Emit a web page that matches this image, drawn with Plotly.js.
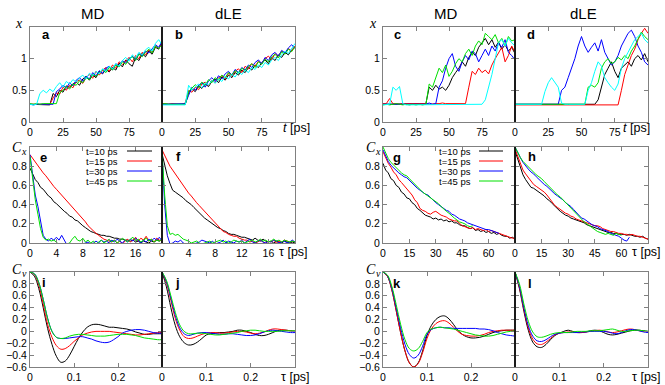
<!DOCTYPE html>
<html>
<head>
<meta charset="utf-8">
<script src="https://cdn.plot.ly/plotly-3.0.1.min.js"></script>
<style>
body { margin: 0; background: #fff; }
#plot { width: 665px; height: 385px; }
</style>
</head>
<body>
<div id="plot"></div>
<script>
// top row: x(t), one point every 2.5 ps from t = 0 to 100
var aBlack = [0.28,0.28,0.27,0.28,0.28,0.28,0.27,0.45,0.40,0.50,0.47,0.57,0.55,0.60,0.63,0.58,0.68,0.72,0.66,0.74,0.70,0.80,0.76,0.83,0.79,0.86,0.82,0.93,0.87,0.98,0.92,0.88,1.02,0.97,1.08,1.03,1.12,1.07,1.18,1.15,1.26];
var aRed   = [0.28,0.28,0.28,0.27,0.28,0.28,0.28,0.38,0.46,0.44,0.55,0.50,0.58,0.54,0.64,0.66,0.61,0.70,0.75,0.69,0.80,0.74,0.82,0.86,0.80,0.90,0.85,0.95,0.91,0.96,1.02,0.95,1.05,1.00,1.10,1.06,1.14,1.10,1.20,1.16,1.24];
var aBlue  = [0.28,0.27,0.28,0.28,0.28,0.28,0.28,0.28,0.48,0.52,0.58,0.53,0.62,0.57,0.66,0.70,0.64,0.72,0.68,0.78,0.73,0.81,0.77,0.85,0.88,0.82,0.92,0.88,0.97,0.93,1.00,1.04,0.98,1.08,1.04,1.12,1.09,1.16,1.22,1.18,1.27];
var aGreen = [0.29,0.28,0.29,0.28,0.29,0.29,0.28,0.29,0.29,0.46,0.50,0.56,0.52,0.60,0.58,0.65,0.62,0.70,0.67,0.75,0.72,0.78,0.83,0.78,0.86,0.82,0.90,0.87,0.95,0.91,0.99,1.03,0.97,1.07,1.03,1.10,1.15,1.09,1.20,1.16,1.22];
var aCyan  = [0.28,0.27,0.28,0.45,0.50,0.46,0.52,0.48,0.56,0.62,0.55,0.64,0.60,0.67,0.63,0.70,0.74,0.68,0.77,0.73,0.80,0.76,0.84,0.80,0.88,0.84,0.92,0.88,0.97,1.02,0.96,1.06,1.01,1.10,1.06,1.14,1.18,1.12,1.24,1.30,1.22];

var bBlack = [0.28,0.28,0.29,0.28,0.28,0.29,0.28,0.28,0.46,0.52,0.48,0.57,0.53,0.60,0.56,0.64,0.68,0.62,0.71,0.66,0.74,0.70,0.78,0.74,0.82,0.78,0.86,0.82,0.90,0.86,0.94,0.98,0.92,1.02,0.97,1.06,1.02,1.10,1.06,1.14,1.18];
var bRed   = [0.29,0.28,0.28,0.29,0.28,0.28,0.28,0.30,0.50,0.47,0.55,0.51,0.60,0.63,0.57,0.66,0.62,0.70,0.73,0.68,0.77,0.72,0.80,0.84,0.78,0.88,0.84,0.92,0.88,0.96,0.92,1.00,1.04,0.98,1.08,1.04,1.12,1.08,1.16,1.12,1.20];
var bBlue  = [0.28,0.28,0.28,0.28,0.29,0.28,0.28,0.29,0.42,0.55,0.50,0.58,0.62,0.55,0.65,0.70,0.64,0.73,0.68,0.76,0.80,0.74,0.83,0.78,0.86,0.82,0.90,0.86,0.94,0.98,0.92,1.02,0.97,1.06,1.10,1.04,1.13,1.09,1.17,1.22,1.16];
var bGreen = [0.28,0.29,0.28,0.28,0.28,0.28,0.29,0.28,0.48,0.53,0.59,0.54,0.63,0.58,0.67,0.62,0.70,0.66,0.74,0.70,0.78,0.74,0.81,0.77,0.85,0.81,0.88,0.92,0.86,0.95,0.91,0.99,0.95,1.03,1.07,1.01,1.11,1.07,1.15,1.11,1.19];
var bCyan  = [0.27,0.27,0.27,0.27,0.28,0.27,0.27,0.27,0.58,0.50,0.56,0.60,0.54,0.62,0.58,0.66,0.61,0.68,0.64,0.72,0.68,0.75,0.71,0.79,0.75,0.82,0.78,0.86,0.83,0.90,0.86,0.94,0.90,0.98,1.02,0.97,1.06,1.12,1.08,1.16,1.24];

var cBlack = [0.28,0.28,0.29,0.28,0.28,0.29,0.28,0.28,0.29,0.28,0.28,0.29,0.28,0.29,0.55,0.50,0.58,0.52,0.55,0.50,0.58,0.70,0.78,0.85,0.95,0.88,1.02,1.10,1.05,1.18,1.25,1.32,1.22,1.30,1.18,1.26,1.15,1.22,1.12,1.18,1.08];
var cRed   = [0.29,0.29,0.37,0.29,0.29,0.28,0.29,0.29,0.29,0.29,0.29,0.30,0.29,0.29,0.28,0.29,0.29,0.29,0.30,0.29,0.29,0.29,0.28,0.29,0.29,0.29,0.55,0.80,0.75,0.85,0.78,0.82,0.76,0.90,1.00,1.10,1.18,0.95,1.05,1.20,1.10];
var cBlue  = [0.28,0.28,0.28,0.29,0.28,0.28,0.28,0.28,0.29,0.28,0.28,0.28,0.29,0.28,0.30,0.28,0.29,0.55,0.65,0.85,1.00,1.08,0.88,0.80,0.95,1.05,0.98,1.12,1.08,0.95,1.05,1.15,1.05,1.20,1.12,1.25,1.18,1.30,1.10,1.05,0.98];
var cGreen = [0.27,0.28,0.27,0.28,0.29,0.28,0.27,0.28,0.27,0.28,0.27,0.28,0.27,0.28,0.60,0.55,0.70,0.85,0.78,0.90,0.72,0.80,0.92,1.00,0.95,1.08,1.15,1.05,1.20,1.28,1.22,1.40,1.35,1.30,1.38,1.25,1.32,1.20,1.35,1.28,1.30];
var cCyan  = [0.27,0.27,0.28,0.55,0.50,0.56,0.29,0.27,0.27,0.27,0.28,0.27,0.27,0.27,0.28,0.27,0.27,0.27,0.28,0.27,0.27,0.27,0.28,0.27,0.27,0.27,0.28,0.27,0.27,0.27,0.28,0.35,0.55,0.75,1.00,1.25,1.30,1.20,1.32,1.25,1.20];

var dBlack = [0.28,0.28,0.29,0.28,0.28,0.28,0.29,0.28,0.28,0.28,0.29,0.28,0.28,0.28,0.29,0.28,0.28,0.28,0.29,0.28,0.28,0.29,0.28,0.28,0.28,0.35,0.55,0.75,0.85,0.95,0.80,0.70,0.85,0.90,0.95,0.88,1.00,1.05,0.98,1.08,0.95];
var dRed   = [0.27,0.27,0.27,0.27,0.28,0.27,0.27,0.27,0.27,0.27,0.28,0.27,0.27,0.27,0.27,0.27,0.28,0.27,0.27,0.27,0.27,0.27,0.28,0.27,0.27,0.27,0.27,0.27,0.28,0.27,0.27,0.27,0.50,0.75,0.90,1.05,1.15,1.30,1.40,1.48,1.40];
var dBlue  = [0.28,0.28,0.28,0.29,0.28,0.28,0.28,0.28,0.29,0.28,0.28,0.28,0.29,0.28,0.50,0.55,0.70,0.85,1.00,1.20,1.35,1.20,1.10,1.18,1.25,1.12,1.30,1.10,1.00,0.90,0.95,1.05,1.20,1.30,1.40,1.45,1.35,1.20,1.10,0.95,0.90];
var dGreen = [0.28,0.28,0.29,0.28,0.28,0.28,0.28,0.29,0.28,0.28,0.28,0.28,0.29,0.28,0.28,0.28,0.28,0.29,0.28,0.28,0.28,0.28,0.55,0.58,0.55,0.62,0.85,0.95,1.00,0.92,0.95,1.02,0.98,1.05,1.00,1.12,1.20,1.30,1.42,1.35,1.30];
var dCyan  = [0.28,0.28,0.28,0.28,0.28,0.28,0.28,0.28,0.28,0.48,0.62,0.70,0.62,0.55,0.30,0.28,0.28,0.28,0.28,0.28,0.28,0.28,0.50,0.62,0.80,0.95,0.88,0.70,0.62,0.55,0.50,0.60,0.85,1.00,1.10,1.20,1.30,1.35,1.40,1.30,1.25];

// middle row left: C_x(tau), one point every 0.4 ps from 0 to 20
var eBlack = [0.78,0.71,0.66,0.63,0.58,0.56,0.52,0.49,0.47,0.43,0.41,0.38,0.36,0.33,0.31,0.28,0.27,0.24,0.23,0.20,0.18,0.16,0.14,0.12,0.11,0.10,0.09,0.08,0.08,0.07,0.07,0.06,0.05,0.05,0.04,0.04,0.03,0.03,0.02,0.03,0.01,0.02,0.00,0.02,0.01,0.00,0.02,0.01,0.03,0.02,0.04];
var eRed   = [0.92,0.88,0.84,0.80,0.76,0.73,0.70,0.66,0.62,0.59,0.56,0.53,0.50,0.47,0.44,0.41,0.38,0.35,0.32,0.29,0.26,0.22,0.18,0.15,0.12,0.10,0.08,0.06,0.04,0.03,0.02,0.01,0.03,0.00,0.02,-0.01,0.02,0.04,0.01,0.03,0.06,0.02,0.05,0.03,0.07,0.02,0.04,0.01,0.05,0.03,0.02];
var eBlue  = [0.92,0.70,0.50,0.38,0.22,0.08,0.04,0.02,0.05,0.03,0.06,0.03,0.08,0.02,-0.02,-0.03,-0.02,-0.04,-0.03,-0.02,-0.01,0.00,0.01,-0.01,0.00,0.02,0.00,0.03,0.01,0.02,0.00,0.03,0.01,0.04,0.02,0.00,0.03,0.01,0.04,0.02,0.05,0.02,0.00,0.03,0.01,0.04,0.02,0.05,0.03,0.06,0.02];
var eGreen = [0.90,0.68,0.45,0.30,0.15,0.06,0.03,0.04,0.02,0.03,0.01,-0.02,-0.03,-0.02,-0.01,0.00,0.04,0.07,0.03,0.02,0.05,0.01,0.03,0.00,0.02,-0.01,0.01,0.03,0.00,0.02,0.04,0.01,0.03,0.00,0.02,0.05,0.03,0.01,0.04,0.06,0.02,0.04,0.01,0.03,0.05,0.02,0.04,0.01,0.03,0.02,0.04];

var fBlack = [0.93,0.80,0.70,0.62,0.55,0.53,0.51,0.49,0.47,0.44,0.42,0.40,0.37,0.34,0.31,0.29,0.26,0.24,0.22,0.20,0.18,0.16,0.15,0.13,0.12,0.10,0.09,0.09,0.08,0.07,0.06,0.06,0.05,0.04,0.03,0.05,0.03,0.02,0.04,0.02,0.01,0.02,0.00,0.02,0.01,0.00,0.02,0.01,0.00,0.01,0.00];
var fRed   = [0.97,0.91,0.85,0.80,0.76,0.72,0.68,0.63,0.59,0.55,0.52,0.49,0.45,0.42,0.39,0.36,0.33,0.29,0.26,0.23,0.20,0.17,0.15,0.12,0.11,0.09,0.08,0.07,0.07,0.05,0.04,0.03,0.03,0.01,0.02,0.00,0.01,0.03,0.01,0.00,0.02,0.01,0.03,0.00,0.02,0.01,0.03,0.02,0.01,0.02,0.01];
var fBlue  = [0.95,0.40,0.08,-0.01,0.00,0.02,0.01,0.03,0.00,-0.02,-0.01,-0.02,-0.01,0.00,0.01,0.03,0.02,0.01,0.00,0.02,-0.01,0.00,0.01,0.03,0.00,0.02,0.01,0.00,0.02,0.01,0.03,0.00,0.02,0.04,0.01,0.00,0.02,0.03,0.01,0.00,0.02,0.01,0.03,0.02,0.00,0.01,0.02,0.00,0.01,0.03,0.01];
var fGreen = [0.95,0.50,0.18,0.09,0.10,0.08,0.09,0.06,0.04,0.03,0.02,0.00,0.01,0.02,0.00,-0.01,0.00,0.01,0.02,0.00,0.01,0.02,0.03,0.01,0.02,0.00,0.01,0.03,0.02,0.01,0.02,0.00,0.01,0.02,0.03,0.01,0.02,0.04,0.02,0.03,0.01,0.02,0.04,0.02,0.03,0.01,0.03,0.02,0.01,0.02,0.01];

// middle row right: C_x(tau), one point every 1.5 ps from 0 to 75
var gBlack = [0.83,0.76,0.73,0.67,0.65,0.60,0.58,0.53,0.51,0.47,0.46,0.42,0.40,0.36,0.34,0.31,0.29,0.28,0.27,0.25,0.26,0.24,0.25,0.23,0.24,0.22,0.23,0.21,0.21,0.19,0.18,0.18,0.16,0.15,0.16,0.13,0.14,0.12,0.13,0.11,0.12,0.10,0.11,0.09,0.10,0.08,0.07,0.07,0.05,0.06,0.04];
var gRed   = [0.95,0.89,0.83,0.79,0.74,0.71,0.66,0.63,0.60,0.56,0.53,0.50,0.45,0.42,0.36,0.34,0.33,0.31,0.30,0.32,0.33,0.31,0.29,0.28,0.27,0.25,0.24,0.23,0.23,0.20,0.18,0.17,0.16,0.15,0.16,0.14,0.15,0.14,0.13,0.14,0.12,0.13,0.12,0.11,0.10,0.09,0.08,0.07,0.06,0.05,0.05];
var gBlue  = [0.97,0.90,0.85,0.81,0.78,0.76,0.73,0.71,0.69,0.68,0.65,0.62,0.60,0.57,0.55,0.53,0.51,0.50,0.47,0.45,0.42,0.40,0.38,0.36,0.34,0.33,0.30,0.29,0.27,0.25,0.24,0.23,0.21,0.20,0.19,0.18,0.17,0.16,0.15,0.14,0.14,0.13,0.12,0.11,0.10];
var gGreen = [1.00,0.93,0.88,0.84,0.81,0.78,0.76,0.73,0.71,0.70,0.67,0.64,0.61,0.58,0.55,0.53,0.51,0.49,0.47,0.45,0.43,0.41,0.38,0.35,0.33,0.31,0.28,0.26,0.24,0.22,0.21,0.20,0.18,0.17,0.18];

var hBlack = [0.96,0.87,0.79,0.71,0.66,0.62,0.58,0.57,0.55,0.53,0.51,0.49,0.46,0.44,0.41,0.38,0.35,0.33,0.31,0.29,0.28,0.26,0.25,0.24,0.23,0.22,0.21,0.19,0.18,0.17,0.16,0.15,0.14,0.13,0.12,0.11,0.11,0.10,0.10,0.09,0.09,0.09,0.08,0.09,0.08,0.07,0.07,0.06,0.07,0.05,0.04];
var hRed   = [0.98,0.90,0.83,0.76,0.72,0.68,0.65,0.61,0.59,0.57,0.55,0.53,0.50,0.46,0.42,0.39,0.37,0.35,0.33,0.31,0.30,0.28,0.27,0.25,0.24,0.23,0.22,0.21,0.20,0.19,0.18,0.18,0.17,0.15,0.14,0.13,0.12,0.12,0.11,0.10,0.10,0.09,0.09,0.08,0.09,0.08,0.07,0.07,0.06,0.05,0.04];
var hBlue  = [1.00,0.94,0.89,0.84,0.80,0.77,0.74,0.72,0.69,0.66,0.64,0.61,0.59,0.56,0.53,0.51,0.49,0.47,0.45,0.42,0.40,0.38,0.35,0.32,0.28,0.26,0.25,0.23,0.21,0.19,0.18,0.17,0.15,0.14,0.13,0.12,0.10,0.09,0.08,0.07,0.05,0.03,0.02,0.06];
var hGreen = [1.00,0.94,0.89,0.85,0.82,0.79,0.76,0.73,0.71,0.69,0.67,0.64,0.61,0.58,0.55,0.53,0.50,0.48,0.45,0.42,0.40,0.37,0.34,0.31,0.27,0.24,0.22,0.20,0.18,0.16,0.14,0.12,0.11,0.10,0.09,0.10,0.09,0.08,0.10,0.09,0.08];

// bottom row: C_v(tau), one point every 0.01 ps from 0 to 0.3
var iBlack = [1.00,0.93,0.72,0.40,0.05,-0.22,-0.42,-0.52,-0.50,-0.40,-0.26,-0.12,-0.01,0.07,0.11,0.12,0.11,0.09,0.07,0.07,0.06,0.05,0.04,0.02,-0.01,-0.03,-0.05,-0.05,-0.04,-0.04,-0.04];
var iRed   = [1.00,0.96,0.78,0.46,0.12,-0.10,-0.24,-0.30,-0.29,-0.24,-0.17,-0.11,-0.06,-0.03,-0.01,0.00,0.00,0.00,0.00,-0.01,-0.02,-0.03,-0.04,-0.05,-0.06,-0.06,-0.05,-0.04,-0.03,-0.02,-0.02];
var iBlue  = [1.00,0.97,0.82,0.54,0.22,0.00,-0.10,-0.12,-0.12,-0.11,-0.10,-0.09,-0.09,-0.11,-0.13,-0.16,-0.18,-0.19,-0.18,-0.14,-0.09,-0.03,0.00,0.02,0.03,0.03,0.02,0.00,-0.02,-0.03,-0.03];
var iGreen = [1.00,0.97,0.82,0.54,0.22,0.00,-0.10,-0.12,-0.11,-0.08,-0.06,-0.05,-0.05,-0.06,-0.07,-0.08,-0.08,-0.08,-0.07,-0.06,-0.05,-0.05,-0.05,-0.06,-0.07,-0.09,-0.11,-0.12,-0.13,-0.14,-0.14];

var jBlack = [1.00,0.75,0.40,0.10,-0.09,-0.19,-0.23,-0.22,-0.18,-0.12,-0.06,-0.04,-0.03,-0.02,-0.02,-0.01,0.00,0.02,0.02,0.00,-0.02,-0.05,-0.07,-0.07,-0.05,-0.02,0.01,0.02,0.02,0.01,0.00];
var jRed   = [1.00,0.82,0.52,0.22,0.02,-0.09,-0.12,-0.11,-0.08,-0.05,-0.03,-0.02,-0.02,-0.03,-0.03,-0.02,-0.01,0.00,0.00,-0.01,-0.03,-0.04,-0.03,-0.01,0.02,0.04,0.04,0.03,0.02,0.01,0.00];
var jBlue  = [1.00,0.84,0.56,0.27,0.06,-0.04,-0.07,-0.05,-0.03,-0.02,-0.02,-0.03,-0.04,-0.05,-0.05,-0.04,-0.04,-0.05,-0.06,-0.07,-0.07,-0.06,-0.04,-0.01,0.01,0.02,0.01,0.00,-0.01,-0.02,-0.02];
var jGreen = [1.00,0.86,0.60,0.32,0.11,0.00,-0.04,-0.04,-0.03,-0.03,-0.04,-0.05,-0.06,-0.06,-0.05,-0.04,-0.03,-0.02,0.00,0.01,0.02,0.02,0.01,0.00,0.00,0.00,0.00,0.01,0.01,0.01,0.01];

var kBlack = [1.00,0.93,0.70,0.35,-0.02,-0.33,-0.53,-0.60,-0.53,-0.33,-0.07,0.10,0.20,0.25,0.26,0.21,0.12,0.02,-0.05,-0.09,-0.11,-0.11,-0.10,-0.08,-0.05,-0.02,0.00,0.01,0.02,0.02,0.02];
var kRed   = [1.00,0.93,0.70,0.35,-0.02,-0.33,-0.53,-0.60,-0.54,-0.36,-0.12,0.04,0.13,0.17,0.18,0.14,0.07,0.00,-0.05,-0.07,-0.08,-0.08,-0.07,-0.05,-0.02,0.00,0.01,0.02,0.02,0.02,0.02];
var kBlue  = [1.00,0.94,0.73,0.40,0.06,-0.22,-0.39,-0.45,-0.40,-0.25,-0.05,0.03,0.06,0.07,0.06,0.06,0.05,0.05,0.05,0.05,0.05,0.05,0.04,0.04,0.03,0.01,-0.02,-0.04,-0.06,-0.07,-0.08];
var kGreen = [1.00,0.95,0.76,0.45,0.12,-0.14,-0.29,-0.33,-0.29,-0.17,-0.02,0.04,0.06,0.07,0.06,0.05,0.04,0.02,0.00,-0.02,-0.04,-0.06,-0.07,-0.08,-0.08,-0.07,-0.05,-0.03,-0.01,0.00,0.01];

var lBlack = [1.00,0.72,0.34,0.02,-0.18,-0.26,-0.27,-0.22,-0.14,-0.07,-0.03,0.00,0.02,0.00,-0.02,-0.02,-0.01,0.01,0.02,0.01,-0.02,-0.05,-0.06,-0.05,-0.03,-0.01,0.01,0.02,0.02,0.01,0.00];
var lRed   = [1.00,0.74,0.37,0.06,-0.13,-0.21,-0.22,-0.18,-0.12,-0.06,-0.03,-0.02,-0.01,-0.01,-0.02,-0.02,-0.01,0.00,0.01,0.02,0.01,-0.01,-0.02,-0.01,0.01,0.03,0.04,0.03,0.01,0.00,-0.01];
var lBlue  = [1.00,0.76,0.40,0.10,-0.08,-0.16,-0.17,-0.14,-0.09,-0.05,-0.03,-0.02,-0.02,-0.02,-0.02,-0.01,-0.01,0.00,0.00,0.00,0.00,-0.01,-0.03,-0.04,-0.02,0.01,0.03,0.03,0.01,-0.01,-0.02];
var lGreen = [1.00,0.80,0.46,0.17,-0.01,-0.09,-0.10,-0.08,-0.05,-0.03,-0.02,-0.02,-0.02,-0.01,0.00,0.00,0.00,0.01,0.01,0.01,0.02,0.03,0.04,0.02,0.00,0.00,0.01,0.02,0.02,0.01,0.00];

var legendLabels = ["t=10 ps", "t=15 ps", "t=30 ps", "t=45 ps"];
var panelLetters = ["a","b","c","d","e","f","g","h","i","j","k","l"];

var BLACK = "#000000", RED = "#ff0000", BLUE = "#0000ff", GREEN = "#00e000", CYAN = "#00ffff";
var lineColors = [BLACK, RED, BLUE, GREEN];

var W = 665, H = 385;
var cols = [[30, 162], [162, 295], [383, 515], [515, 648]];
var rows = [[27, 122], [147, 243], [272, 367]];

function ax(n) { return n == 1 ? "" : String(n); }

function line(n, y, color, dx, shape) {
    return {
        type: "scatter", mode: "lines", y: y, x0: 0, dx: dx,
        xaxis: "x" + ax(n), yaxis: "y" + ax(n),
        line: {color: color, width: 1, shape: shape || "linear"},
        hoverinfo: "skip", showlegend: false
    };
}

var data = [];
var top4 = [[aBlack, aRed, aBlue, aGreen, aCyan], [bBlack, bRed, bBlue, bGreen, bCyan],
            [cBlack, cRed, cBlue, cGreen, cCyan], [dBlack, dRed, dBlue, dGreen, dCyan]];
var topColors = [BLACK, RED, BLUE, GREEN, CYAN];
top4.forEach(function (set, k) {
    set.forEach(function (y, s) { data.push(line(k + 1, y, topColors[s], 2.5)); });
});
var mid4 = [[eBlack, eRed, eBlue, eGreen], [fBlack, fRed, fBlue, fGreen],
            [gBlack, gRed, gBlue, gGreen], [hBlack, hRed, hBlue, hGreen]];
mid4.forEach(function (set, k) {
    set.forEach(function (y, s) { data.push(line(k + 5, y, lineColors[s], k < 2 ? 0.4 : 1.5)); });
});
var bot4 = [[iBlack, iRed, iBlue, iGreen], [jBlack, jRed, jBlue, jGreen],
            [kBlack, kRed, kBlue, kGreen], [lBlack, lRed, lBlue, lGreen]];
bot4.forEach(function (set, k) {
    set.forEach(function (y, s) { data.push(line(k + 9, y, lineColors[s], 0.01, "spline")); });
});

var layout = {
    width: W, height: H,
    margin: {l: 0, r: 0, t: 0, b: 0},
    paper_bgcolor: "#ffffff", plot_bgcolor: "#ffffff",
    showlegend: false,
    font: {family: "Liberation Sans, Arial, sans-serif", size: 10.5, color: "#000"},
    annotations: [], shapes: []
};

var frame = "#808080";
for (var n = 1; n <= 12; n++) {
    var r = Math.floor((n - 1) / 4), c = (n - 1) % 4;
    var xa = {
        domain: [cols[c][0] / W, cols[c][1] / W], anchor: "y" + ax(n),
        showgrid: false, zeroline: false, showline: true, mirror: "ticks",
        linecolor: frame, linewidth: 1, ticks: "inside", ticklen: 4, tickcolor: frame,
        tickmode: "array", fixedrange: true
    };
    var ya = {
        domain: [1 - rows[r][1] / H, 1 - rows[r][0] / H], anchor: "x" + ax(n),
        showgrid: false, zeroline: false, showline: true, mirror: "ticks",
        linecolor: frame, linewidth: 1, ticks: "inside", ticklen: 4, tickcolor: frame,
        tickmode: "array", fixedrange: true, showticklabels: (c == 0 || c == 2)
    };
    if (r == 0) {
        xa.range = [0, 100]; xa.tickvals = [0, 25, 50, 75]; xa.ticktext = ["0", "25", "50", "75"];
        ya.range = [0, 1.5]; ya.tickvals = [0, 0.5, 1]; ya.ticktext = ["0", "0.5", "1"];
    } else if (r == 1) {
        if (c < 2) {
            xa.range = [0, 20]; xa.tickvals = [0, 4, 8, 12, 16]; xa.ticktext = ["0", "4", "8", "12", "16"];
        } else {
            xa.range = [0, 75]; xa.tickvals = [0, 15, 30, 45, 60]; xa.ticktext = ["0", "15", "30", "45", "60"];
        }
        ya.range = [0, 1]; ya.tickvals = [0, 0.2, 0.4, 0.6, 0.8]; ya.ticktext = ["0", "0.2", "0.4", "0.6", "0.8"];
    } else {
        xa.range = [0, 0.3]; xa.tickvals = [0, 0.1, 0.2]; xa.ticktext = ["0", "0.1", "0.2"];
        ya.range = [-0.6, 1];
        ya.tickvals = [-0.6, -0.4, -0.2, 0, 0.2, 0.4, 0.6, 0.8];
        ya.ticktext = ["\u22120.6", "\u22120.4", "\u22120.2", "0", "0.2", "0.4", "0.6", "0.8"];
    }
    layout["xaxis" + ax(n)] = xa;
    layout["yaxis" + ax(n)] = ya;

    // darker shared border between the MD and dLE panels
    if (c == 1 || c == 3) {
        layout.shapes.push({type: "line", xref: "x" + ax(n) + " domain", yref: "y" + ax(n) + " domain",
            x0: 0, x1: 0, y0: 0, y1: 1, line: {color: "#000", width: 1.6}});
    }
}

function note(text, px, py, size, extra) {
    var a = {text: text, x: px / W, y: 1 - py / H, xref: "paper", yref: "paper",
             showarrow: false, font: {size: size}, xanchor: "center", yanchor: "middle"};
    for (var k in extra) a[k] = extra[k];
    layout.annotations.push(a);
}

// column titles
note("MD", 92, 13, 15); note("dLE", 228, 13, 15);
note("MD", 445, 13, 15); note("dLE", 583, 13, 15);

// panel letters
var letterPos = [[46, 34], [179, 34], [397, 34], [531, 34],
                 [44, 157], [178, 156], [397, 157], [532, 156],
                 [44, 282], [177, 282], [397, 283], [530, 283]];
panelLetters.forEach(function (t, k) {
    note("<b>" + t + "</b>", letterPos[k][0], letterPos[k][1], 13);
});

// axis labels (subscripts as separate small texts)
var serif = {family: "Liberation Serif, DejaVu Serif, serif", size: 14, color: "#000"};
var serifSmall = {family: "Liberation Serif, DejaVu Serif, serif", size: 10, color: "#000"};
[19, 373].forEach(function (px) {
    note("<i>x</i>", px, 23, 14, {font: serif});
    note("<i>C</i>", px - 2, 147, 14, {font: serif});
    note("<i>x</i>", px + 5, 151, 10, {font: serifSmall});
    note("<i>C</i>", px - 2, 269, 14, {font: serif});
    note("<i>v</i>", px + 5, 273, 10, {font: serifSmall});
});
note("<i>t</i> [ps]", 296, 128, 12.5);
note("<i>t</i> [ps]", 636, 128, 12.5);
note("\u03c4 [ps]", 293, 252, 12.5);
note("\u03c4 [ps]", 646, 252, 12.5);
note("\u03c4 [ps]", 295, 377, 12.5);
note("\u03c4 [ps]", 646, 377, 12.5);

// legends of panels e and g
var legY = [151, 161, 171, 181];
[[119, 127, 152], [472, 479, 503]].forEach(function (pos) {
    legendLabels.forEach(function (t, k) {
        note(t, pos[0], legY[k], 9.5, {xanchor: "right", borderpad: 0});
        layout.shapes.push({type: "line", xref: "paper", yref: "paper",
            x0: pos[1] / W, x1: pos[2] / W, y0: 1 - legY[k] / H, y1: 1 - legY[k] / H,
            line: {color: lineColors[k], width: 1}});
    });
});

Plotly.newPlot("plot", data, layout, {staticPlot: true, displayModeBar: false});
</script>
</body>
</html>
